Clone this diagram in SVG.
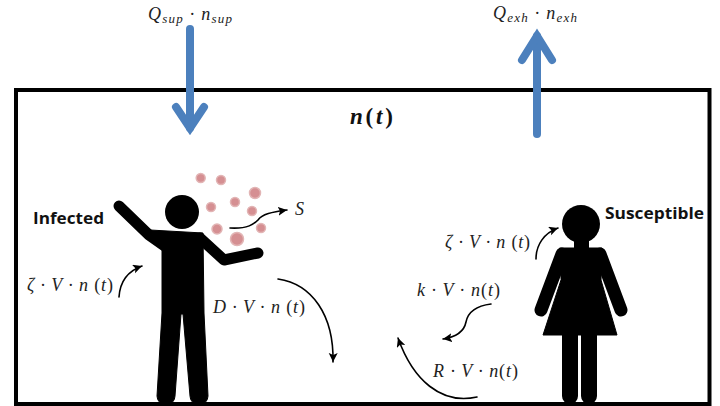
<svg xmlns="http://www.w3.org/2000/svg" width="720" height="406" viewBox="0 0 720 406">
<style>
.m{font-family:"Liberation Serif","DejaVu Serif",serif;font-style:italic;font-size:18px;fill:#222}
.sub{font-size:13px}
.u{font-style:normal}
.b{font-family:"Open Sans","Liberation Sans",sans-serif;font-weight:700;font-size:16px;fill:#111}
.c{fill:none;stroke:#000;stroke-width:1.6;stroke-linecap:round}
.blue{fill:none;stroke:#4c80bd;stroke-width:8;stroke-linecap:round;stroke-linejoin:miter}
.fig{fill:#000;stroke:#000;stroke-linejoin:round;stroke-linecap:round}
.limb{fill:none;stroke:#000;stroke-linejoin:round;stroke-linecap:round}
.d{fill:#d58f92;stroke:#e2b5b5;stroke-width:1.5}
</style>
<defs>
<marker id="ah" markerUnits="userSpaceOnUse" markerWidth="12" markerHeight="10" refX="9" refY="4.5" orient="auto"><path d="M0,0L9,4.5L0,9L2,4.5Z" fill="#000"/></marker>
<filter id="soft" x="-10%" y="-10%" width="120%" height="120%"><feGaussianBlur stdDeviation="0.6"/></filter>
</defs>
<rect width="720" height="406" fill="#fff"/>
<g id="room"><rect x="16" y="90" width="693.5" height="314" fill="none" stroke="#000" stroke-width="4"/>
<text x="350" y="124" textLength="43" style="font-family:'Liberation Serif',serif;font-style:italic;font-weight:700;font-size:23px;fill:#111">n<tspan class="u">(</tspan>t<tspan class="u">)</tspan></text></g>
<g id="supply"><path class="blue" d="M190,29V128"/><path class="blue" d="M176,107L190,128L204,107"/>
<text class="m" x="148" y="20" textLength="84">Q<tspan class="sub" dy="3">sup</tspan><tspan dy="-3"> · n</tspan><tspan class="sub" dy="3">sup</tspan></text></g>
<g id="exhaust"><path class="blue" d="M537,134V36"/><path class="blue" d="M522,60L537,36L552,60"/>
<text class="m" x="493" y="19" textLength="84">Q<tspan class="sub" dy="3">exh</tspan><tspan dy="-3"> · n</tspan><tspan class="sub" dy="3">exh</tspan></text></g>
<g id="infected">
<g filter="url(#soft)">
<circle cx="182" cy="212" r="17" fill="#000"/>
<path class="fig" stroke-width="1" d="M150,230L203,233L204,313L208,396A9,9 0 0 1 190,396L183,314L181,314L175,396A9,9 0 0 1 157,396L162,313L162,250Z"/>
<path class="limb" stroke-width="11" d="M119,206L149,235L166,247"/>
<path class="limb" stroke-width="11" d="M200,238L224,260L258,253"/>
<g><circle class="d" cx="200.7" cy="178" r="4.5"/><circle class="d" cx="221" cy="180" r="4.5"/><circle class="d" cx="255" cy="193" r="5.5"/><circle class="d" cx="235" cy="202" r="4.5"/><circle class="d" cx="211" cy="207" r="4.5"/><circle class="d" cx="252" cy="211" r="4.5"/><circle class="d" cx="217" cy="229" r="5"/><circle class="d" cx="261" cy="228" r="4.5"/><circle class="d" cx="237" cy="239" r="6.5"/></g>
</g>
<text class="b" x="33" y="224" textLength="71" lengthAdjust="spacingAndGlyphs">Infected</text>
</g>
<g id="susceptible">
<g filter="url(#soft)">
<circle cx="581" cy="224" r="19" fill="#000"/>
<rect x="574" y="238" width="15" height="12" fill="#000"/>
<path class="fig" stroke-width="1" d="M560,248H602L601,280L617,335H543L561,280Z"/>
<path class="limb" stroke-width="13" d="M562,254L541,310"/>
<path class="limb" stroke-width="13" d="M600,254L621,310"/>
<path class="limb" stroke-width="16" d="M570,335V396M589,335V396"/>
</g>
<text class="b" x="605" y="219" textLength="99" lengthAdjust="spacingAndGlyphs">Susceptible</text>
</g>
<g id="connectors">
<path class="c" marker-end="url(#ah)" d="M230,228C248,229 254,224 258,220C262,214 272,212 287,210"/>
<path class="c" marker-end="url(#ah)" d="M119,297C120,282 128,271 142,266"/>
<path class="c" marker-end="url(#ah)" d="M278,279C312,284 334,315 333,362"/>
<path class="c" marker-end="url(#ah)" d="M536,259C536,245 544,233 558,228"/>
<path class="c" marker-end="url(#ah)" d="M491,304C475,306 468,312 466,322C464,332 456,337 443,339"/>
<path class="c" marker-end="url(#ah)" d="M477,397C441,405 413,380 398,338"/>
</g>
<g id="labels">
<text class="m" x="27" y="291" textLength="86">ζ · V · n <tspan class="u">(</tspan>t<tspan class="u">)</tspan></text>
<text class="m" x="213" y="313" textLength="92">D · V · n <tspan class="u">(</tspan>t<tspan class="u">)</tspan></text>
<text class="m" x="295" y="215">S</text>
<text class="m" x="445" y="248" textLength="85">ζ · V · n <tspan class="u">(</tspan>t<tspan class="u">)</tspan></text>
<text class="m" x="417" y="296" textLength="83">k · V · n<tspan class="u">(</tspan>t<tspan class="u">)</tspan></text>
<text class="m" x="433" y="377" textLength="85">R · V · n<tspan class="u">(</tspan>t<tspan class="u">)</tspan></text>
</g>
</svg>
